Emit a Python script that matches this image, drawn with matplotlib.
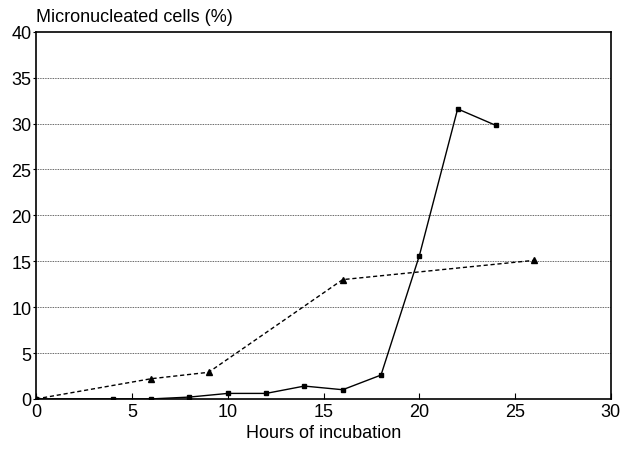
import matplotlib
matplotlib.use("Agg")
import matplotlib.pyplot as plt

plt.rcParams['font.family'] = ['Liberation Sans', 'DejaVu Sans']

# solid line, square markers
hours_sq = [0, 4, 6, 8, 10, 12, 14, 16, 18, 20, 22, 24]
cells_sq = [0, 0, 0, 0.2, 0.6, 0.6, 1.4, 1.0, 2.6, 15.6, 31.6, 29.8]

# dashed line, triangle markers
hours_tri = [0, 6, 9, 16, 26]
cells_tri = [0, 2.2, 2.9, 13.0, 15.1]

xticks = [0, 5, 10, 15, 20, 25, 30]
yticks = [0, 5, 10, 15, 20, 25, 30, 35, 40]

fig = plt.figure(figsize=(6.24, 4.56), dpi=100)
ax = fig.add_axes([0.058, 0.123, 0.921, 0.805])

for y in yticks[1:-1]:
    ax.axhline(y, color='#333333', linestyle=(0, (1, 1)), linewidth=0.6, zorder=1)

ax.plot(hours_sq, cells_sq, color='black', linewidth=1.0, marker='s',
        markersize=3.5, zorder=3)
ax.plot(hours_tri, cells_tri, color='black', linewidth=1.0, linestyle=(0, (3, 2)),
        marker='^', markersize=4, zorder=3)

ax.set_xlim(0, 30)
ax.set_ylim(0, 40)
ax.set_xticks(xticks)
ax.set_yticks(yticks)
ax.tick_params(axis='x', direction='in', length=4, labelsize=13, pad=3)
ax.tick_params(axis='y', direction='out', length=2, labelsize=13, pad=1.5)
for s in ax.spines.values():
    s.set_linewidth(1.2)

ax.set_xlabel('Hours of incubation', fontsize=13, labelpad=3)
fig.text(0.058, 0.942, 'Micronucleated cells (%)', fontsize=13, ha='left', va='bottom')

fig.savefig('out.png', dpi=100)
